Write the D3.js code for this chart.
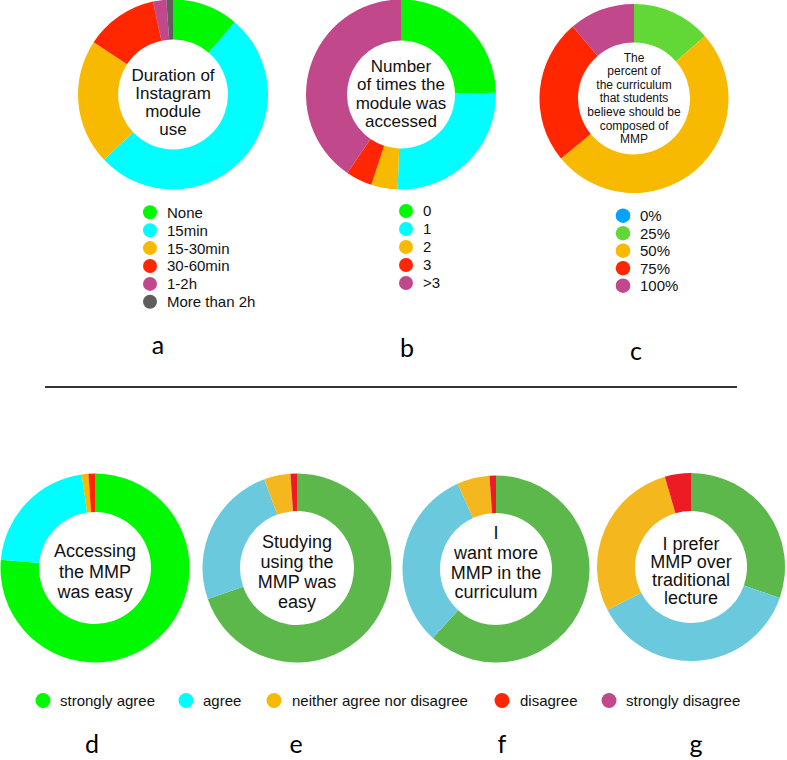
<!DOCTYPE html>
<html>
<head>
<meta charset="utf-8">
<script src="https://cdn.jsdelivr.net/npm/d3@7"></script>
<style>
  html, body { margin: 0; padding: 0; background: #fff; }
  svg { display: block; }
</style>
</head>
<body>
<svg id="chart" width="787" height="760"></svg>
<script>
// ---------- DATA ----------
const durationCategories = ["None", "15min", "15-30min", "30-60min", "1-2h", "More than 2h"];
const durationValues = [10, 46, 19, 11, 2, 1];

const accessCategories = ["0", "1", "2", "3", ">3"];
const accessValues = [22, 23, 4, 4, 36];

const percentCategories = ["0%", "25%", "50%", "75%", "100%"];
const percentValues = [0, 12, 45, 22, 10];

const agreeCategories = ["strongly agree", "agree", "neither agree nor disagree", "disagree", "strongly disagree"];
const accessEasyValues = [68, 19, 1, 1, 0];
const studyEasyValues = [62, 22, 4, 1, 0];
const wantMoreValues = [55, 28, 5, 1, 0];
const preferValues = [27, 33, 25, 4, 0];

const topLetters = ["a", "b", "c"];
const bottomLetters = ["d", "e", "f", "g"];

// ---------- STYLES ----------
const brightColors = ["#00f900", "#00fdff", "#f8ba00", "#ff2600", "#c1488a", "#5e5e5e"];
const percentColors = ["#00a2ff", "#61d836", "#f8ba00", "#ff2600", "#c1488a"];
const mutedColors = ["#5db84c", "#6bc9dd", "#f4b81e", "#ed1c24", "#c1488a"];
const FONT = "'Liberation Sans', Arial, Helvetica, sans-serif";
const LETTER_FONT = "Lato, 'Open Sans', sans-serif";

const svg = d3.select("#chart");

function donut(cfg) {
  const pie = d3.pie().sort(null).value(d => d.v);
  const arc = d3.arc().innerRadius(cfg.r).outerRadius(cfg.R);
  const data = cfg.values.map((v, i) => ({ v, c: cfg.colors[i] }));
  const g = svg.append("g").attr("transform", `translate(${cfg.cx},${cfg.cy})`);
  g.selectAll("path").data(pie(data)).join("path")
    .attr("d", arc)
    .attr("fill", d => d.data.c);
  const t = g.append("text")
    .attr("text-anchor", "middle")
    .attr("font-family", FONT)
    .attr("font-size", cfg.fs)
    .attr("fill", "#111");
  cfg.lines.forEach((ln, i) => {
    t.append("tspan").attr("x", 0).attr("y", cfg.y0 + i * cfg.lh).text(ln);
  });
}

function vlegend(cfg) {
  const g = svg.append("g");
  cfg.cats.forEach((c, i) => {
    const y = cfg.y0 + i * cfg.dy;
    g.append("circle").attr("cx", cfg.cx).attr("cy", y).attr("r", cfg.rad).attr("fill", cfg.colors[i]);
    g.append("text").attr("x", cfg.tx).attr("y", y).attr("dy", "0.36em")
      .attr("font-family", FONT).attr("font-size", 15).attr("fill", "#111").text(c);
  });
}

// ---------- TOP ROW ----------
donut({ cx: 173, cy: 94.5, R: 95, r: 55, values: durationValues, colors: brightColors,
  lines: ["Duration of", "Instagram", "module", "use"], fs: 17, y0: 81 - 94.5, lh: 18 });
donut({ cx: 401, cy: 94.5, R: 95, r: 54, values: accessValues, colors: brightColors,
  lines: ["Number", "of times the", "module was", "accessed"], fs: 17, y0: 72 - 94.5, lh: 18.3 });
donut({ cx: 634, cy: 98.5, R: 94.5, r: 56, values: percentValues, colors: percentColors,
  lines: ["The", "percent of", "the curriculum", "that students", "believe should be", "composed of", "MMP"],
  fs: 12, y0: 61.5 - 98.5, lh: 13.6 });

vlegend({ cats: durationCategories, colors: brightColors, cx: 150, tx: 167, y0: 212.3, dy: 17.9, rad: 7 });
vlegend({ cats: accessCategories, colors: brightColors, cx: 406, tx: 423, y0: 211, dy: 18, rad: 7 });
vlegend({ cats: percentCategories, colors: percentColors, cx: 623, tx: 640, y0: 215.7, dy: 17.5, rad: 7.3 });

const topLetterX = [158, 407, 636];
const topLetterY = [354, 357, 360];
topLetters.forEach((l, i) => {
  svg.append("text").attr("x", topLetterX[i]).attr("y", topLetterY[i]).attr("text-anchor", "middle")
    .attr("font-family", LETTER_FONT).attr("font-size", 25).attr("fill", "#000").text(l);
});

// separator
svg.append("line").attr("x1", 45).attr("x2", 737).attr("y1", 387).attr("y2", 387)
  .attr("stroke", "#333").attr("stroke-width", 2);

// ---------- BOTTOM ROW ----------
donut({ cx: 95, cy: 568, R: 94.5, r: 56, values: accessEasyValues, colors: brightColors,
  lines: ["Accessing", "the MMP", "was easy"], fs: 18, y0: 557 - 568, lh: 20.7 });
donut({ cx: 297, cy: 568, R: 94.5, r: 57, values: studyEasyValues, colors: mutedColors,
  lines: ["Studying", "using the", "MMP was", "easy"], fs: 18, y0: 547.5 - 568, lh: 20 });
donut({ cx: 496, cy: 569, R: 93.5, r: 56, values: wantMoreValues, colors: mutedColors,
  lines: ["I", "want more", "MMP in the", "curriculum"], fs: 18, y0: 539 - 569, lh: 19.8 });
donut({ cx: 691, cy: 567, R: 94, r: 56, values: preferValues, colors: mutedColors,
  lines: ["I prefer", "MMP over", "traditional", "lecture"], fs: 18, y0: 549.5 - 567, lh: 18.3 });

// horizontal legend
const hlCircleX = [43, 186, 274, 502, 609];
const hlTextX = [60, 203, 292, 520, 626];
const hl = svg.append("g");
agreeCategories.forEach((c, i) => {
  hl.append("circle").attr("cx", hlCircleX[i]).attr("cy", 700.5).attr("r", 7.5).attr("fill", brightColors[i]);
  hl.append("text").attr("x", hlTextX[i]).attr("y", 700.5).attr("dy", "0.36em")
    .attr("font-family", FONT).attr("font-size", 15).attr("fill", "#111").text(c);
});

const botLetterX = [92, 296, 502, 696];
bottomLetters.forEach((l, i) => {
  svg.append("text").attr("x", botLetterX[i]).attr("y", 753).attr("text-anchor", "middle")
    .attr("font-family", LETTER_FONT).attr("font-size", 25).attr("fill", "#000").text(l);
});
</script>
</body>
</html>
